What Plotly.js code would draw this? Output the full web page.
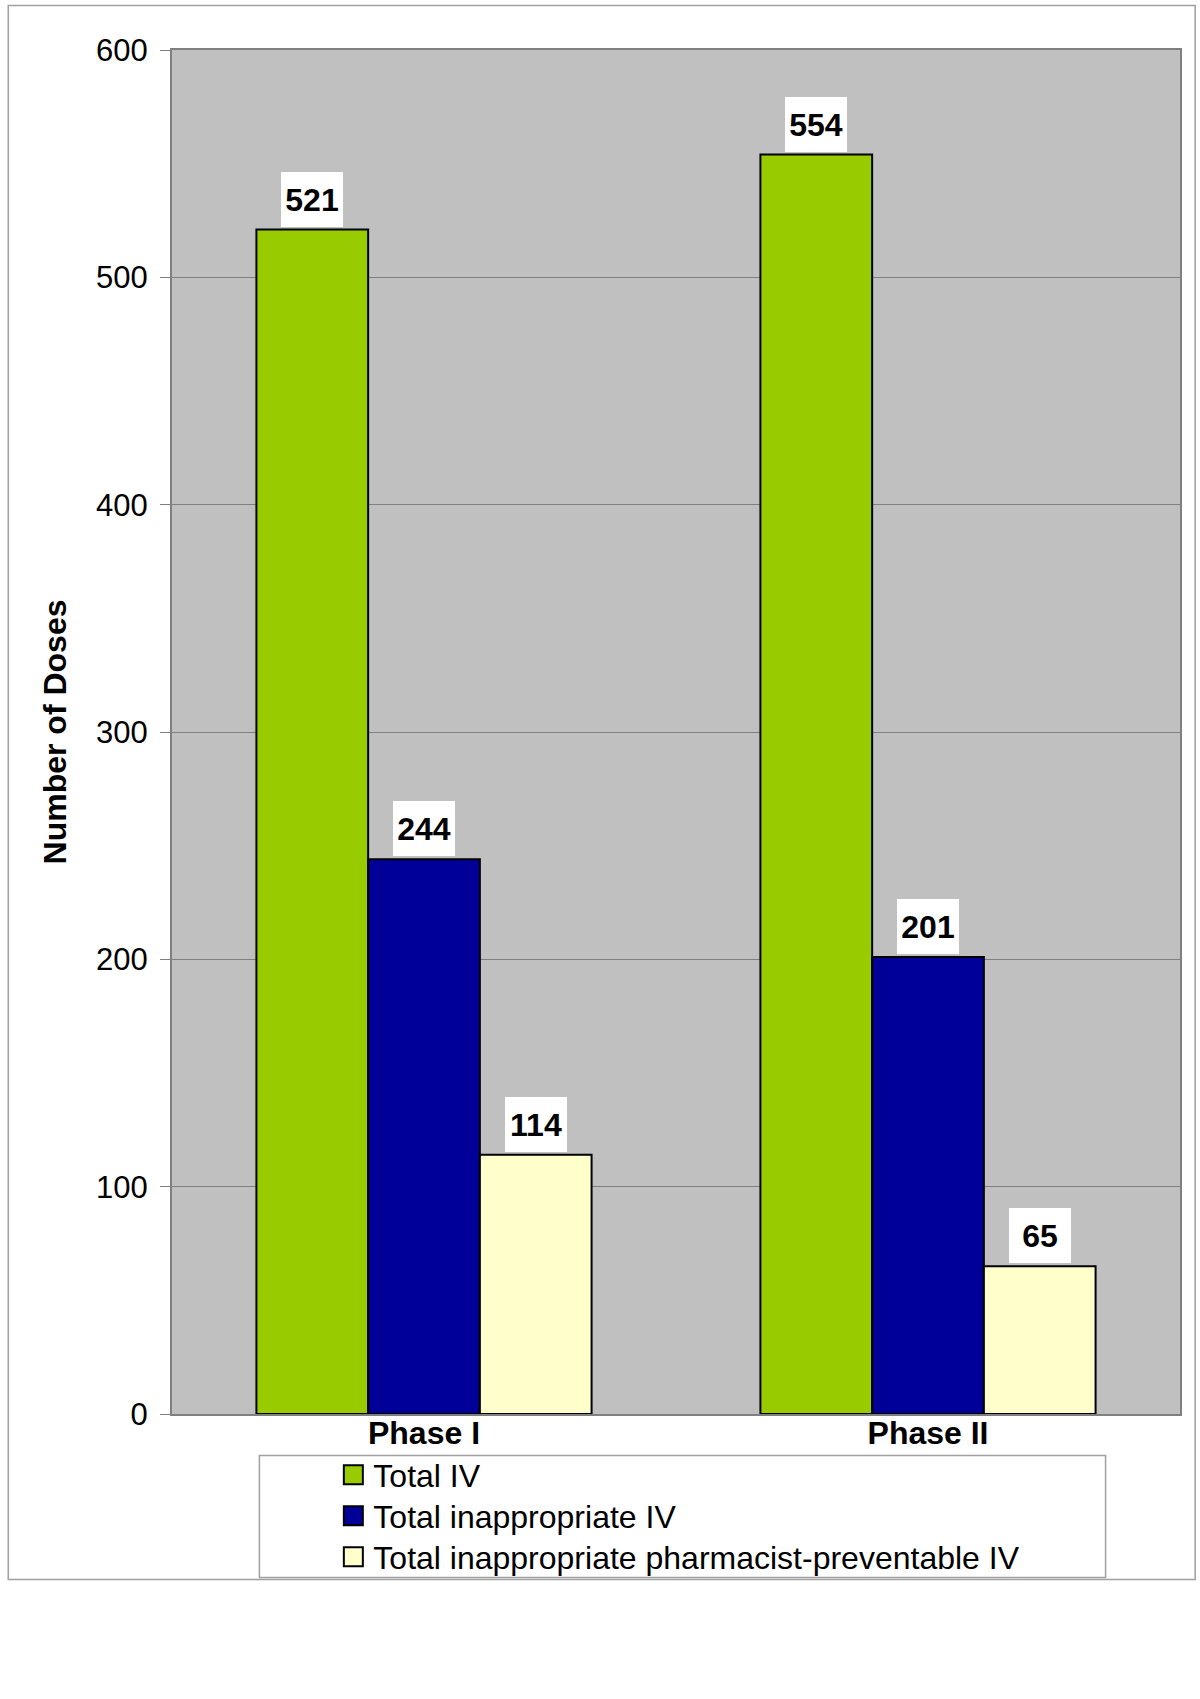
<!DOCTYPE html>
<html>
<head>
<meta charset="utf-8">
<script src="https://cdn.plot.ly/plotly-3.0.1.min.js"></script>
<style>
  html, body { margin: 0; padding: 0; background: #ffffff; }
  #chart { width: 1200px; height: 1699px; }
</style>
</head>
<body>
<div id="chart"></div>
<script>
// ---- data ----
var categories = ["Phase I", "Phase II"];
var seriesNames = ["Total IV", "Total inappropriate IV", "Total inappropriate pharmacist-preventable IV"];
var totalIV = [521, 554];
var inappropriateIV = [244, 201];
var preventableIV = [114, 65];
var yTicks = [0, 100, 200, 300, 400, 500, 600];
var yTitle = "Number of Doses";

// ---- styles ----
var seriesValues = [totalIV, inappropriateIV, preventableIV];
var seriesColors = ["#99CC00", "#000099", "#FFFFCC"];
var FONT = "Liberation Sans, Arial, Helvetica, sans-serif";
var bargap = 0.335;

var traces = seriesValues.map(function (vals, k) {
  return {
    type: "bar",
    name: seriesNames[k],
    x: categories,
    y: vals,
    marker: { color: seriesColors[k], line: { color: "#000000", width: 2 } },
    hoverinfo: "skip"
  };
});

// value labels with white boxes, positioned through the category axis
var nS = seriesValues.length;
var barW = (1 - bargap) / nS;
var annotations = [];
seriesValues.forEach(function (vals, k) {
  vals.forEach(function (v, i) {
    annotations.push({
      xref: "x", yref: "y",
      x: i + (-(1 - bargap) / 2 + (k + 0.5) * barW),
      y: v,
      text: "<b>" + v + "</b>",
      showarrow: false,
      xanchor: "center", yanchor: "bottom",
      yshift: 3,
      width: 62, height: 55,
      borderpad: 0, borderwidth: 0,
      bgcolor: "#ffffff",
      font: { family: FONT, size: 32, color: "#000000" }
    });
  });
});

var W = 1200, H = 1699;
var mL = 171.5, mR = 19.5, mT = 50, mB = 285.4;
var pw = W - mL - mR, ph = H - mT - mB;
function px(x) { return (x - mL) / pw; }
function py(y) { return (H - mB - y) / ph; }

var layout = {
  width: W, height: H,
  margin: { l: mL, r: mR, t: mT, b: mB, pad: 0 },
  paper_bgcolor: "#ffffff",
  plot_bgcolor: "#C0C0C0",
  barmode: "group",
  bargap: bargap,
  bargroupgap: 0,
  font: { family: FONT, color: "#000000" },
  showlegend: true,
  legend: {
    x: px(333), y: py(1447),
    xanchor: "left", yanchor: "top",
    bgcolor: "rgba(0,0,0,0)",
    borderwidth: 0,
    tracegroupgap: 0,
    font: { family: FONT, size: 32, color: "#000000" },
    traceorder: "normal"
  },
  xaxis: {
    type: "category",
    showgrid: false,
    zeroline: false,
    showline: true, linecolor: "#808080", linewidth: 2, mirror: true,
    ticks: "",
    ticklabelstandoff: -10,
    tickfont: { family: FONT, size: 32, color: "#000000", weight: "bold" },
    fixedrange: true
  },
  yaxis: {
    range: [0, 600],
    tickvals: yTicks,
    ticktext: yTicks.map(String),
    showgrid: true, gridcolor: "#808080", gridwidth: 1,
    zeroline: false,
    showline: true, linecolor: "#808080", linewidth: 2, mirror: true,
    ticks: "outside", ticklen: 10, tickcolor: "#808080", tickwidth: 1,
    ticklabelstandoff: 6,
    tickfont: { family: FONT, size: 31, color: "#000000" },
    title: { text: "<b>" + yTitle + "</b>", font: { family: FONT, size: 32, color: "#000000" }, standoff: 20 },
    fixedrange: true
  },
  annotations: annotations,
  shapes: [
    { type: "rect", xref: "paper", yref: "paper", layer: "below",
      x0: px(7.6), x1: px(1195.7), y0: py(1579), y1: py(5.4),
      line: { color: "#A0A0A0", width: 1.5 }, fillcolor: "rgba(0,0,0,0)" },
    { type: "rect", xref: "paper", yref: "paper",
      x0: px(259), x1: px(1106), y0: py(1577), y1: py(1455),
      line: { color: "#A0A0A0", width: 1.5 }, fillcolor: "rgba(0,0,0,0)" }
  ]
};

Plotly.newPlot("chart", traces, layout, { displayModeBar: false, staticPlot: true }).then(function () {
  var pts = document.querySelectorAll(".legend .legendpoints path");
  pts.forEach(function (p) {
    p.setAttribute("d", "M9.5,9.5H-9.5V-9.5H9.5Z");
    p.style.strokeWidth = "2px";
  });
  // tighten legend row spacing to match the reference
  var rows = document.querySelectorAll(".legend .traces");
  var re = /translate\(\s*([-\d.]+)[ ,]+([-\d.]+)\s*\)/;
  var first = null;
  rows.forEach(function (r, i) {
    var t = r.getAttribute("transform") || "";
    var m = t.match(re);
    if (!m) return;
    var x0 = parseFloat(m[1]), y0 = parseFloat(m[2]);
    if (first === null) first = y0;
    r.setAttribute("transform", "translate(" + x0 + "," + (first + i * 41) + ")");
  });
});
</script>
</body>
</html>
